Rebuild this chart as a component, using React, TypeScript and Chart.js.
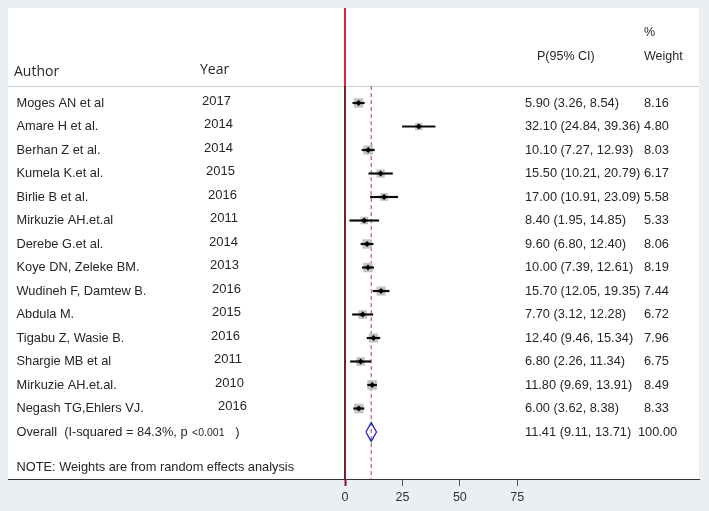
import { useEffect, useRef } from "react";
import { Chart, registerables } from "chart.js";
Chart.register(...registerables);

const authors = [
  "Moges AN et al",
  "Amare H et al.",
  "Berhan Z et al.",
  "Kumela K.et al.",
  "Birlie B et al.",
  "Mirkuzie AH.et.al",
  "Derebe G.et al.",
  "Koye DN, Zeleke BM.",
  "Wudineh F, Damtew B.",
  "Abdula M.",
  "Tigabu Z, Wasie B.",
  "Shargie MB et al",
  "Mirkuzie AH.et.al.",
  "Negash TG,Ehlers VJ.",
];
const years = [2017, 2014, 2014, 2015, 2016, 2011, 2014, 2013, 2016, 2015, 2016, 2011, 2010, 2016];
const estimates = [5.9, 32.1, 10.1, 15.5, 17.0, 8.4, 9.6, 10.0, 15.7, 7.7, 12.4, 6.8, 11.8, 6.0];
const lower = [3.26, 24.84, 7.27, 10.21, 10.91, 1.95, 6.8, 7.39, 12.05, 3.12, 9.46, 2.26, 9.69, 3.62];
const upper = [8.54, 39.36, 12.93, 20.79, 23.09, 14.85, 12.4, 12.61, 19.35, 12.28, 15.34, 11.34, 13.91, 8.38];
const weights = [8.16, 4.8, 8.03, 6.17, 5.58, 5.33, 8.06, 8.19, 7.44, 6.72, 7.96, 6.75, 8.49, 8.33];
const overallEst = 11.41;
const overallLower = 9.11;
const overallUpper = 13.71;
const overallWeight = 100.0;
const iSquared = "84.3%";
const pText = "<0.001";
const xTicks = [0, 25, 50, 75];

// layout (pixels / scale extents), not data
const X_MIN = -146.7;
const X_MAX = 154.1;
const Y_TOP = -4.043;
const Y_BOTTOM = 16.0;
const HEADER_ROW = -0.72;
const yearNudge = [0, 2, 2, 4, 6, 8, 7, 8, 10, 10, 9, 12, 13, 16];

const BG = "#e9eff3";
const TEXT = "#262626";
const FONT = '"Liberation Sans", Arial, sans-serif';

export default function App() {
  const ref = useRef<HTMLCanvasElement>(null);

  useEffect(() => {
    document.body.style.margin = "0";
    document.body.style.background = BG;
    const canvas = ref.current;
    if (!canvas) return;
    const overallRow = authors.length;

    const ciSets = authors.map((_, i) => ({
      data: [
        { x: lower[i], y: i },
        { x: upper[i], y: i },
      ],
      showLine: true,
      borderColor: "#0d0d0d",
      borderWidth: 2.2,
      pointRadius: 0,
      order: 2,
    }));

    const datasets: any[] = [
      {
        data: [
          { x: 0, y: Y_TOP },
          { x: 0, y: HEADER_ROW },
        ],
        showLine: true,
        borderColor: "#e8222e",
        borderWidth: 2,
        pointRadius: 0,
        order: 5,
      },
      {
        data: [
          { x: 0, y: HEADER_ROW },
          { x: 0, y: Y_BOTTOM },
        ],
        showLine: true,
        borderColor: "#7e1a26",
        borderWidth: 2,
        pointRadius: 0,
        order: 5,
      },
      {
        data: [
          { x: overallEst, y: HEADER_ROW },
          { x: overallEst, y: Y_BOTTOM },
        ],
        showLine: true,
        borderColor: "#a8405a",
        borderWidth: 1,
        borderDash: [4, 3],
        pointRadius: 0,
        order: 5,
      },
      {
        data: authors.map((_, i) => ({ x: estimates[i], y: i })),
        showLine: false,
        pointStyle: "rect",
        pointRadius: (c: any) => (3.3 * Math.sqrt(weights[c.dataIndex] ?? 1)) / Math.SQRT2,
        backgroundColor: "#c2c2c2",
        borderWidth: 0,
        order: 3,
      },
      ...ciSets,
      {
        data: authors.map((_, i) => ({ x: estimates[i], y: i })),
        showLine: false,
        pointStyle: "rectRot",
        pointRadius: 3,
        backgroundColor: "#000",
        borderWidth: 0,
        order: 1,
      },
      {
        data: [
          { x: overallLower, y: overallRow },
          { x: overallEst, y: overallRow - 0.4 },
          { x: overallUpper, y: overallRow },
          { x: overallEst, y: overallRow + 0.4 },
          { x: overallLower, y: overallRow },
        ],
        showLine: true,
        borderColor: "#1f1fc8",
        borderWidth: 1.3,
        fill: false,
        pointRadius: 0,
        tension: 0,
        order: 1,
      },
    ];

    const bgPlugin = {
      id: "bg",
      beforeDraw(chart: any) {
        const { ctx, chartArea } = chart;
        ctx.save();
        ctx.fillStyle = "#ffffff";
        ctx.fillRect(chartArea.left, chartArea.top, chartArea.right - chartArea.left, chartArea.bottom - chartArea.top);
        const yh = Math.round(chart.scales.y.getPixelForValue(HEADER_ROW)) + 0.5;
        ctx.strokeStyle = "#cfcfcf";
        ctx.lineWidth = 1;
        ctx.beginPath();
        ctx.moveTo(chartArea.left, yh);
        ctx.lineTo(chartArea.right, yh);
        ctx.stroke();
        ctx.restore();
      },
    };

    const textPlugin = {
      id: "forestText",
      afterDraw(chart: any) {
        const ctx = chart.ctx;
        const ys = chart.scales.y;
        ctx.save();
        ctx.textBaseline = "middle";
        ctx.fillStyle = TEXT;
        ctx.font = '14px "Open Sans", sans-serif';
        ctx.fillText("Author", 14, 72);
        ctx.fillText("Year", 200, 70);
        ctx.font = `12.5px ${FONT}`;
        ctx.fillText("P(95% CI)", 537, 57);
        ctx.fillText("%", 644, 33);
        ctx.fillText("Weight", 644, 57);
        authors.forEach((a, i) => {
          const py = ys.getPixelForValue(i);
          ctx.font = `12.8px ${FONT}`;
          ctx.fillText(a, 16.5, py);
          ctx.fillText(
            `${estimates[i].toFixed(2)} (${lower[i].toFixed(2)}, ${upper[i].toFixed(2)})`,
            525,
            py
          );
          ctx.fillText(weights[i].toFixed(2), 644, py);
          ctx.font = `13px ${FONT}`;
          ctx.fillText(String(years[i]), 202 + yearNudge[i], py - 2);
        });
        const oy = ys.getPixelForValue(authors.length);
        ctx.font = `12.8px ${FONT}`;
        let x = 16.5;
        const s1 = `Overall  (I-squared = ${iSquared}, p `;
        ctx.fillText(s1, x, oy);
        x += ctx.measureText(s1).width + 1;
        ctx.font = `10.5px ${FONT}`;
        ctx.fillText(pText, x, oy + 1.5);
        x += ctx.measureText(pText).width;
        ctx.font = `12.8px ${FONT}`;
        ctx.fillText("   )", x, oy);
        ctx.fillText(
          `${overallEst.toFixed(2)} (${overallLower.toFixed(2)}, ${overallUpper.toFixed(2)})`,
          525,
          oy
        );
        ctx.fillText(overallWeight.toFixed(2), 638, oy);
        ctx.fillText("NOTE: Weights are from random effects analysis", 16.5, 467);
        ctx.restore();
      },
    };

    const chart = new Chart(canvas, {
      type: "scatter",
      data: { datasets },
      options: {
        animation: false,
        responsive: false,
        layout: { padding: { left: 8, right: 10, top: 8, bottom: 0 } },
        plugins: { legend: { display: false }, tooltip: { enabled: false } },
        scales: {
          x: {
            type: "linear",
            min: X_MIN,
            max: X_MAX,
            afterBuildTicks: (scale: any) => {
              scale.ticks = xTicks.map((v) => ({ value: v }));
            },
            afterFit: (scale: any) => {
              scale.height = 32;
            },
            grid: {
              drawOnChartArea: false,
              drawTicks: true,
              tickLength: 7,
              tickColor: (c: any) => (c.tick && c.tick.value === 0 ? "#7e1a26" : "#555"),
              tickWidth: (c: any) => (c.tick && c.tick.value === 0 ? 2 : 1),
            },
            border: { display: true, color: "#333", width: 1 },
            ticks: {
              padding: 4,
              color: "#333",
              font: { family: FONT, size: 12.5 },
              callback: (v: any) => String(v),
            },
          },
          y: {
            type: "linear",
            display: false,
            reverse: true,
            min: Y_TOP,
            max: Y_BOTTOM,
          },
        },
      },
      plugins: [bgPlugin, textPlugin],
    });
    return () => chart.destroy();
  }, []);

  return (
    <canvas
      ref={ref}
      width={709}
      height={511}
      style={{ display: "block", width: "709px", height: "511px", background: BG }}
    />
  );
}
